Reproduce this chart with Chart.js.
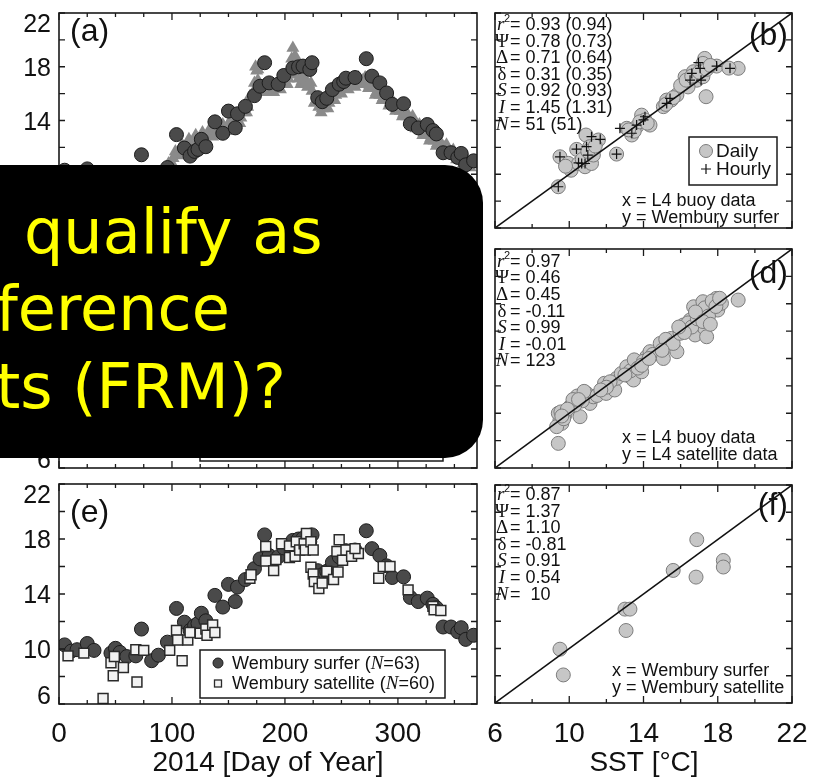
<!DOCTYPE html>
<html><head><meta charset="utf-8">
<script src="https://cdn.jsdelivr.net/npm/chart.js@4.4.1/dist/chart.umd.min.js"></script>
<style>
html,body{margin:0;padding:0;background:#fff;}
#wrap{position:relative;width:817px;height:777px;overflow:hidden;background:#fff;}
#wrap canvas{position:absolute;left:0;top:0;}
#box{position:absolute;left:-60px;top:165px;width:543px;height:293px;background:#000;border-radius:38px;overflow:hidden;}
#box div{position:absolute;white-space:pre;font-family:"DejaVu Sans",Verdana,sans-serif;font-size:62px;line-height:62px;color:#ffff00;}
</style></head><body>
<div id="wrap">
<canvas id="ca" width="817" height="777"></canvas>
<canvas id="cc" width="817" height="777"></canvas>
<canvas id="ce" width="817" height="777"></canvas>
<canvas id="cb" width="817" height="777"></canvas>
<canvas id="cd" width="817" height="777"></canvas>
<canvas id="cf" width="817" height="777"></canvas>
<div id="box"><div style="left:84px;top:35.6px">qualify as</div><div style="left:56px;top:112.6px">ference</div><div style="left:56px;top:190.6px">ts (FRM)?</div></div>
</div>
<script>
// ---------- tick values ----------
const dayMinor=[0,25,50,75,100,125,150,175,200,225,250,275,300,325,350];
const dayMajor=[0,100,200,300];
const sstMinor=[6,8,10,12,14,16,18,20,22];
const sstMajor=[6,10,14,18,22];
const oneToOne=[6,22];

// ---------- Wembury surfer (N=63) ----------
const surferDay=[5,11,16,25,31,46,50,54,60,68,73,82,88,96,104,111,116,120,123,126,130,138,145,150,156,158,165,173,178,182,186,194,199,207,212,216,222,224,229,233,237,242,248,252,254,262,272,277,284,290,295,305,311,318,326,331,334,340,347,353,356,360,367];
const surferSST=[10.3,9.85,9.95,10.4,9.9,9.7,10.05,9.75,9.45,9.5,11.45,9.15,9.55,10.5,12.95,11.95,11.35,11.7,11.85,12.6,12.05,13.9,13.05,14.7,13.45,14.5,15.05,15.85,16.55,18.3,16.8,16.7,17.35,17.9,18.0,18.05,17.8,18.3,15.7,15.4,15.65,16.3,16.7,16.9,17.15,17.2,18.6,17.3,16.8,16.05,15.2,15.25,13.75,13.45,13.7,13.25,13.0,11.6,11.6,11.25,11.55,10.7,11.0];

// ---------- Wembury satellite (N=60) ----------
const satDay=[8,22,39,46,48,49,57,68,69,75,98,104,105,109,114,116,125,130,131,136,138,169,170,183,183,190,192,197,204,204,209,210,213,217,218,219,223,225,223,225,226,230,233,237,243,247,246,248,251,254,259,265,283,287,293,309,331,332,338,262];
const satSST=[9.5,9.7,6.4,9.0,8.05,9.45,8.65,9.95,7.6,9.9,9.9,11.35,10.65,9.15,10.65,11.2,11.15,11.45,11.0,11.75,11.2,15.15,15.4,17.45,16.4,15.7,16.5,17.65,16.65,17.5,16.75,17.8,17.2,17.65,17.2,18.4,17.8,17.2,15.95,15.45,14.9,14.4,14.8,15.65,15.05,15.6,17.1,17.95,16.45,17.2,16.75,16.95,15.15,16.0,16.0,14.3,13.1,12.85,12.8,17.3];

// ---------- L4 buoy (panels a, c) ----------
const buoyDay=[1,4,7,10,13,16,19,22,25,28,31,34,37,40,43,46,49,52,55,58,61,64,67,70,73,76,79,82,85,88,91,94,97,100,103,106,109,112,115,118,121,124,127,130,133,136,139,142,145,148,151,154,157,160,163,166,169,172,175,178,181,184,187,190,193,196,199,202,205,208,211,214,217,220,223,226,229,232,235,238,241,244,247,250,253,256,259,262,265,268,271,274,277,280,283,286,289,292,295,298,301,304,307,310,313,316,319,322,325,328,331,334,337,340,343,346,349,352,355,358,361,364,174,176,206,207,209];
const buoySST=[10.0,9.6,9.9,9.5,9.9,9.5,9.8,9.4,9.8,9.3,9.7,9.2,9.6,9.1,9.6,9.1,9.7,9.2,9.7,9.1,9.7,9.0,9.6,9.1,9.7,9.2,9.8,9.3,9.9,9.5,10.0,9.8,10.8,10.8,11.7,11.4,12.2,11.8,12.6,12.2,12.9,12.4,13.1,12.6,13.3,12.8,13.5,13.0,13.7,13.2,13.9,13.5,14.2,13.8,14.7,14.6,15.8,16.1,17.7,16.3,16.6,16.1,16.8,16.1,16.7,16.3,17.1,16.7,17.5,17.5,17.5,16.7,17.2,16.5,16.8,15.3,15.4,14.6,15.3,14.9,15.8,15.5,16.4,16.0,16.8,16.3,17.0,16.5,17.2,16.7,17.2,16.4,16.8,15.9,16.3,15.5,15.9,15.1,15.5,14.7,15.1,14.3,14.7,13.9,14.3,13.4,13.7,12.9,13.3,12.5,12.9,12.1,12.5,11.8,12.2,11.4,11.8,11.1,11.5,10.8,11.2,10.5,18.0,17.8,18.6,19.4,18.8];
const buoyMidDay=[2,5,8,11,14,17,20,23,26,29,32,35,38,41,44,47,50,53,56,59,62,65,68,71,74,77,80,83,86,89,92,95,98,101,104,107,110,113,116,119,122,125,128,131,134,137,140,143,146,149,152,155,158,161,164,167,170,173,176,179,182,185,188,191,194,197,200,203,206,209,212,215,218,221,224,227,230,233,236,239,242,245,248,251,254,257,260,263,266,269,272,275,278,281,284,287,290,293,296,299,302,305,308,311,314,317,320,323,326,329,332,335,338,341,344,347,350,353,356,359,362,365];
const buoyMidSST=[9.8,9.7,9.7,9.6,9.6,9.6,9.5,9.5,9.5,9.4,9.4,9.3,9.3,9.3,9.4,9.4,9.5,9.5,9.5,9.4,9.4,9.3,9.4,9.4,9.5,9.5,9.6,9.6,9.7,9.8,9.9,10.2,10.6,11.2,11.5,11.8,12.0,12.2,12.4,12.5,12.6,12.7,12.8,12.9,13.0,13.1,13.2,13.3,13.4,13.5,13.7,13.8,14.0,14.2,14.6,15.0,15.8,16.8,17.0,16.5,16.3,16.4,16.5,16.4,16.5,16.7,16.9,17.1,17.4,17.6,17.1,16.9,16.8,16.7,16.2,15.4,15.0,14.9,15.1,15.3,15.6,15.9,16.2,16.4,16.5,16.6,16.7,16.8,16.9,17.0,16.8,16.6,16.4,16.1,15.9,15.7,15.5,15.3,15.1,14.9,14.7,14.5,14.3,14.1,13.9,13.6,13.3,13.1,12.9,12.7,12.5,12.3,12.2,12.0,11.8,11.6,11.5,11.3,11.2,11.0,10.9,10.7];

// ---------- panel (b): L4 buoy (x) vs Wembury surfer (y) ----------
const bDailyX=[9.41,9.5,9.95,10.1,10.4,10.5,10.85,10.9,11.1,11.2,11.3,11.57,12.55,13.1,13.37,13.63,13.9,14.08,14.35,15.07,15.25,15.5,15.8,16.24,16.5,16.69,16.87,17.2,17.3,17.2,17.37,17.94,19.1,16.4,9.8,10.7,11.0,13.5,13.8,14.2,15.2,15.6,16.0,16.3,16.6,17.0,17.4,17.6,18.6,13.2,11.4];
const bDailyY=[9.07,11.3,10.81,10.3,11.85,10.8,10.56,12.92,12.05,10.8,11.43,12.55,11.5,13.42,12.92,13.54,14.4,14.04,13.66,15.03,15.52,15.52,15.9,17.26,16.88,17.63,17.0,17.26,18.62,18.25,15.77,18.05,17.88,16.5,10.6,11.1,11.7,13.2,13.9,13.8,15.2,15.7,16.6,17.0,17.3,17.6,17.8,18.1,17.9,13.3,12.1];
const bHourlyX=[9.41,9.5,10.39,10.5,10.67,10.85,10.93,11.0,11.2,11.67,12.55,12.73,13.37,13.63,14.0,14.08,15.25,15.43,16.51,16.6,16.96,17.05,17.1,17.94,18.66];
const bHourlyY=[9.07,11.3,11.87,10.85,10.8,10.8,12.05,11.43,12.8,12.6,11.5,13.42,13.05,13.66,14.04,14.28,15.27,15.64,17.0,17.5,18.3,17.88,17.0,18.05,17.88];

// ---------- panel (d): L4 buoy (x) vs L4 satellite (y) ----------
const dX=[9.41,9.5,9.6,9.32,9.41,9.77,9.55,9.7,10.04,10.43,10.58,10.94,11.12,11.3,10.7,10.3,10.2,10.8,11.5,11.99,11.9,12.45,12.55,12.2,12.8,13.1,13.28,13.46,13.63,13.9,13.3,13.5,13.0,13.7,14.17,14.35,14.0,14.5,14.9,15.07,15.25,15.5,15.8,15.2,15.6,15.0,15.97,16.15,16.33,16.51,16.7,16.78,16.96,17.1,17.3,17.4,17.2,17.56,17.74,17.92,18.0,18.2,19.1,16.0,16.4,16.6,16.9,17.0,17.3,17.5,17.7,17.9,18.1,16.2,15.9,16.8,17.2,17.6,13.9,14.3,12.0,11.7,9.9,9.6,10.5];
const dY=[7.8,9.5,9.26,9.02,10.0,9.88,10.1,9.6,10.48,11.26,9.75,11.45,10.72,11.2,10.9,10.6,11.0,11.6,11.3,11.45,12.19,11.7,12.55,12.3,12.9,13.4,12.67,12.43,13.65,13.03,13.1,13.9,12.8,13.3,14.13,14.5,13.8,14.3,15.1,14.0,14.86,15.47,14.5,15.4,15.1,14.6,15.84,16.45,16.08,16.81,17.78,15.72,17.05,17.54,16.2,15.59,18.15,17.42,17.9,18.39,17.54,18.03,18.27,16.2,16.6,16.3,16.9,17.3,17.7,17.1,18.2,17.8,18.4,15.9,16.3,17.4,16.7,16.5,13.5,14.0,11.9,11.7,10.3,9.8,11.0];

// ---------- panel (f): Wembury surfer (x) vs Wembury satellite (y) ----------
const fX=[9.5,9.68,13.0,13.27,13.06,15.6,16.87,16.83,18.3,18.3];
const fY=[9.95,8.06,12.89,12.89,11.32,15.73,17.99,15.24,16.46,15.98];

// ---------- statistics text ----------
const bStats=[['r','0.93 (0.94)'],['Ψ','0.78 (0.73)'],['Δ','0.71 (0.64)'],['δ','0.31 (0.35)'],['S','0.92 (0.93)'],['I','1.45 (1.31)'],['N','51 (51)']];
const dStats=[['r','0.97'],['Ψ','0.46'],['Δ','0.45'],['δ','-0.11'],['S','0.99'],['I','-0.01'],['N','123']];
const fStats=[['r','0.87'],['Ψ','1.37'],['Δ','1.10'],['δ','-0.81'],['S','0.91'],['I','0.54'],['N',' 10']];

const pts=(xa,ya)=>xa.map((x,i)=>({x:x,y:ya[i]}));
const lineData=()=>oneToOne.map(v=>({x:v,y:v}));
const buoyPts=()=>pts(buoyDay,buoySST).concat(pts(buoyMidDay,buoyMidSST));

const SURF={pointStyle:'circle',pointRadius:7,backgroundColor:'#4a4a4a',borderColor:'#1c1c1c',borderWidth:1};
const SAT={pointStyle:'rect',pointRadius:7,backgroundColor:'#f2f2f2',borderColor:'#2a2a2a',borderWidth:1.5};
const BUOY={pointStyle:'triangle',pointRadius:7.5,backgroundColor:'#8a8a8a',borderWidth:0};
const LIGHT={pointStyle:'circle',pointRadius:7,backgroundColor:'#c6c6c6',borderColor:'#7c7c7c',borderWidth:1};
const CROSS={pointStyle:'cross',pointRadius:5,borderColor:'#111',borderWidth:1.2,backgroundColor:'#111'};
const LINE={type:'line',borderColor:'#111',borderWidth:1.5,pointRadius:0,fill:false,tension:0};

function txt(c,s,x,y,font,align){c.font=font;c.textAlign=align||'left';c.textBaseline='alphabetic';c.fillText(s,x,y);}

function drawStats(c,x0,y0,rows){
  rows.forEach((r,i)=>{
    const y=y0+i*16.6; c.fillStyle='#111';
    if(r[0]==='r'){txt(c,'r',x0+1,y,'italic 19px "Liberation Serif"');txt(c,'2',x0+8,y-8,'11px "Liberation Sans"');}
    else{const it=(r[0]==='S'||r[0]==='I'||r[0]==='N')?'italic ':'';txt(c,r[0],x0+6,y,it+'19px "Liberation Serif"','center');}
    txt(c,'= '+r[1],x0+14,y,'18px "Liberation Sans"');
  });
}

function decoPlugin(o){
  return {id:'deco',afterDatasetsDraw(chart){
    const c=chart.ctx,a=chart.chartArea,xs=chart.scales.x,ys=chart.scales.y;
    c.save();
    c.strokeStyle='#1a1a1a';c.lineWidth=1.6;
    c.strokeRect(a.left,a.top,a.right-a.left,a.bottom-a.top);
    c.lineWidth=1.3;c.beginPath();
    o.xTicks.forEach(v=>{const p=xs.getPixelForValue(v);const L=o.xMaj.includes(v)?7:4;
      c.moveTo(p,a.bottom);c.lineTo(p,a.bottom-L);c.moveTo(p,a.top);c.lineTo(p,a.top+L);});
    sstMinor.forEach(v=>{const p=ys.getPixelForValue(v);const L=6;
      c.moveTo(a.left,p);c.lineTo(a.left+L,p);c.moveTo(a.right,p);c.lineTo(a.right-L,p);});
    c.stroke();
    c.fillStyle='#111';
    if(o.yLabels){o.yLabels.forEach(v=>{let p=ys.getPixelForValue(v);
      if(v===ys.max)p=a.top+10; if(v===ys.min)p=a.bottom-9;
      txt(c,String(v),a.left-8,p+9,'25px "Liberation Sans"','right');});}
    if(o.xLabels){o.xLabels.forEach(v=>{const p=xs.getPixelForValue(v);txt(c,String(v),p,742,'28px "Liberation Sans"','center');});}
    if(o.xTitle){txt(c,o.xTitle[0],o.xTitle[1],771,'28px "Liberation Sans"','center');}
    if(o.tag){txt(c,o.tag[0],o.tag[1],o.tag[2]+8,'32px "Liberation Sans"',o.tag[3]);}
    if(o.stats){drawStats(c,496,o.statsY,o.stats);}
    if(o.xy){txt(c,o.xy[0],o.xy[2],o.xy[3],'18px "Liberation Sans"');txt(c,o.xy[1],o.xy[2],o.xy[3]+17,'18px "Liberation Sans"');}
    if(o.after) o.after(c,a,xs,ys);
    c.restore();
  }};
}

function makePanel(id,area,xr,yr,datasets,o){
  const hid={display:false,grid:{display:false},ticks:{display:false},border:{display:false}};
  return new Chart(document.getElementById(id),{
    type:'scatter',
    data:{datasets:datasets},
    options:{responsive:false,maintainAspectRatio:false,animation:false,events:[],
      layout:{padding:{left:area[0],top:area[1],right:817-area[2],bottom:777-area[3]}},
      plugins:{legend:{display:false},tooltip:{enabled:false}},
      scales:{
        x:Object.assign({type:'linear',min:xr[0],max:xr[1],afterFit(s){s.height=0;}},hid),
        y:Object.assign({type:'linear',min:yr[0],max:yr[1],afterFit(s){s.width=0;}},hid)
      }},
    plugins:[decoPlugin(o)]
  });
}

function legendBox(c,x0,y0,x1,y1){c.fillStyle='#fff';c.fillRect(x0,y0,x1-x0,y1-y0);c.strokeStyle='#1a1a1a';c.lineWidth=1.5;c.strokeRect(x0,y0,x1-x0,y1-y0);}

// (a)
makePanel('ca',[59,13,477,228],[0,370],[6,22],[
  Object.assign({label:'Wembury surfer',data:pts(surferDay,surferSST)},SURF),
  Object.assign({label:'L4 buoy',data:buoyPts()},BUOY)
],{xTicks:dayMinor,xMaj:dayMajor,yLabels:sstMajor,tag:['(a)',70,33,'left']});

// (c)
makePanel('cc',[59,249,477,468],[0,370],[6,22],[
  Object.assign({label:'L4 buoy',data:buoyPts()},BUOY)
],{xTicks:dayMinor,xMaj:dayMajor,yLabels:sstMajor,tag:['(c)',70,270,'left'],
  after(c){legendBox(c,200,413,443,461);}});

// (e)
makePanel('ce',[59,484,477,704],[0,370],[6,22],[
  Object.assign({label:'Wembury satellite',data:pts(satDay,satSST)},SAT),
  Object.assign({label:'Wembury surfer',data:pts(surferDay,surferSST)},SURF)
],{xTicks:dayMinor,xMaj:dayMajor,yLabels:sstMajor,xLabels:dayMajor,xTitle:['2014 [Day of Year]',268],tag:['(e)',70,514,'left'],
  after(c){
    legendBox(c,200,650,445,698);
    c.fillStyle='#4a4a4a';c.strokeStyle='#1c1c1c';c.lineWidth=1;
    c.beginPath();c.arc(218,663,5,0,Math.PI*2);c.fill();c.stroke();
    c.fillStyle='#f2f2f2';c.strokeStyle='#2a2a2a';c.lineWidth=1.3;
    c.fillRect(214.5,680,7,7);c.strokeRect(214.5,680,7,7);
    c.fillStyle='#111';
    const f='18px "Liberation Sans"',fi='italic 19px "Liberation Serif"';
    const parts1=[['Wembury surfer (',f],['N',fi],['=63)',f]];
    const parts2=[['Wembury satellite (',f],['N',fi],['=60)',f]];
    [[parts1,669],[parts2,689]].forEach(([parts,y])=>{let xx=232;parts.forEach(p=>{c.font=p[1];c.textAlign='left';c.fillText(p[0],xx,y);xx+=c.measureText(p[0]).width;});});
  }});

// (b)
makePanel('cb',[495,13,792,228],[6,22],[6,22],[
  Object.assign({label:'1:1',data:lineData()},LINE),
  Object.assign({label:'Hourly',data:pts(bHourlyX,bHourlyY)},CROSS),
  Object.assign({label:'Daily',data:pts(bDailyX,bDailyY)},LIGHT)
],{xTicks:sstMinor,xMaj:sstMajor,tag:['(b)',788,37,'right'],stats:bStats,statsY:30,
  xy:['x = L4 buoy data','y = Wembury surfer',622,206],
  after(c){
    legendBox(c,689,137,777,185);
    c.fillStyle='#c6c6c6';c.strokeStyle='#7c7c7c';c.lineWidth=1;
    c.beginPath();c.arc(706,151,6.5,0,Math.PI*2);c.fill();c.stroke();
    c.strokeStyle='#111';c.lineWidth=1.2;c.beginPath();c.moveTo(701,169);c.lineTo(711,169);c.moveTo(706,164);c.lineTo(706,174);c.stroke();
    c.fillStyle='#111';
    txt(c,'Daily',716,157,'19px "Liberation Sans"');
    txt(c,'Hourly',716,175,'19px "Liberation Sans"');
  }});

// (d)
makePanel('cd',[495,249,792,468],[6,22],[6,22],[
  Object.assign({label:'1:1',data:lineData()},LINE),
  Object.assign({label:'L4',data:pts(dX,dY)},LIGHT)
],{xTicks:sstMinor,xMaj:sstMajor,tag:['(d)',788,275,'right'],stats:dStats,statsY:266.7,
  xy:['x = L4 buoy data','y = L4 satellite data',622,443]});

// (f)
makePanel('cf',[495,485,792,703],[6,22],[6,22],[
  Object.assign({label:'1:1',data:lineData()},LINE),
  Object.assign({label:'Wembury',data:pts(fX,fY)},LIGHT)
],{xTicks:sstMinor,xMaj:sstMajor,tag:['(f)',788,507,'right'],stats:fStats,statsY:500,
  xLabels:sstMajor,xTitle:['SST [°C]',644],
  xy:['x = Wembury surfer','y = Wembury satellite',612,676]});
</script>
</body></html>
